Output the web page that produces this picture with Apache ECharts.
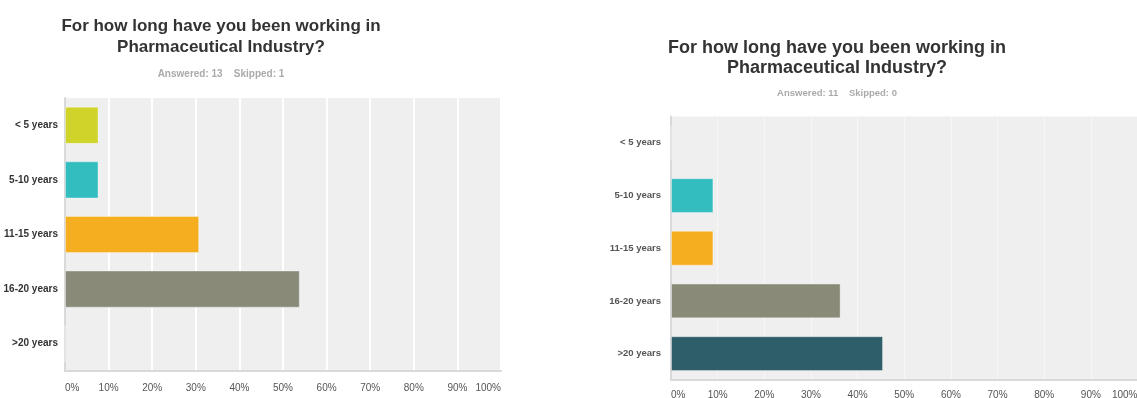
<!DOCTYPE html>
<html>
<head>
<meta charset="utf-8">
<script src="https://cdn.jsdelivr.net/npm/echarts@6/dist/echarts.min.js"></script>
<style>
  html, body { margin: 0; padding: 0; background: #fff; }
  #wrap { position: relative; width: 1137px; height: 398px; overflow: hidden; }
  #left { position: absolute; left: 0; top: 0; width: 580px; height: 398px; }
  #right { position: absolute; left: 580px; top: 0; width: 557px; height: 398px; filter: blur(0.5px); }
</style>
</head>
<body>
<div id="wrap">
  <div id="left"></div>
  <div id="right"></div>
</div>
<script>
// Survey question and answer options
const questionText = 'For how long have you been working in\nPharmaceutical Industry?';
const categories = ['< 5 years', '5-10 years', '11-15 years', '16-20 years', '>20 years'];
const tickLabels = ['0%', '10%', '20%', '30%', '40%', '50%', '60%', '70%', '80%', '90%', '100%'];

// First survey: share of respondents per answer (%)
const surveyA = { answered: 13, skipped: 1 };
const surveyAValues = [7.69, 7.69, 30.77, 53.85, 0];

// Second survey: share of respondents per answer (%)
const surveyB = { answered: 11, skipped: 0 };
const surveyBValues = [0, 9.09, 9.09, 36.36, 45.45];

// One colour per answer option
const barColors = ['#d0d42a', '#33bdbf', '#f5ae1f', '#8a8a78', '#2e5e6a'];

function buildOption(cfg) {
  return {
    animation: false,
    title: [
      {
        text: questionText,
        left: cfg.titleX, top: cfg.titleTop, textAlign: 'center',
        textStyle: {
          fontFamily: 'Liberation Sans, Arial, sans-serif',
          fontSize: cfg.titleSize, fontWeight: 'bold', color: '#333',
          lineHeight: cfg.titleLine, align: 'center'
        }
      },
      {
        text: 'Answered: ' + cfg.survey.answered + '    Skipped: ' + cfg.survey.skipped,
        left: cfg.titleX, top: cfg.subTop, textAlign: 'center',
        textStyle: {
          fontFamily: 'Liberation Sans, Arial, sans-serif',
          fontSize: cfg.subSize, fontWeight: 'bold', color: '#aaa'
        }
      }
    ],
    grid: {
      left: cfg.grid.left, top: cfg.grid.top, width: cfg.grid.width, height: cfg.grid.height,
      outerBoundsMode: 'none', containLabel: false,
      show: true, backgroundColor: '#efefef', borderWidth: 0
    },
    xAxis: {
      type: 'value', min: 0, max: 100, interval: 10,
      axisLine: { show: true, lineStyle: { color: '#d9d9d9', width: 2 } },
      axisTick: { show: false },
      splitLine: { show: true, lineStyle: { color: cfg.splitColor, width: cfg.splitWidth } },
      axisLabel: {
        margin: cfg.labelMargin,
        fontFamily: 'Liberation Sans, Arial, sans-serif',
        fontSize: cfg.tickSize, color: '#555',
        alignMinLabel: 'left', alignMaxLabel: 'right',
        formatter: (v) => tickLabels[Math.round(v / 10)]
      }
    },
    yAxis: {
      type: 'category', data: categories, inverse: true,
      axisLine: { show: true, lineStyle: { color: '#d9d9d9', width: 2 } },
      axisTick: { show: false },
      axisLabel: {
        margin: cfg.catMargin,
        fontFamily: 'Liberation Sans, Arial, sans-serif',
        fontSize: cfg.catSize, fontWeight: 'bold', color: cfg.catColor
      }
    },
    series: [{
      type: 'bar',
      barCategoryGap: cfg.gap,
      data: cfg.values.map((v, i) => ({
        value: v,
        itemStyle: { color: barColors[i], borderColor: 'rgba(255,255,255,0.35)', borderWidth: 1 }
      }))
    }]
  };
}

const leftChart = echarts.init(document.getElementById('left'));
leftChart.setOption(buildOption({
  survey: surveyA, values: surveyAValues,
  titleX: 216, titleTop: 11, titleSize: 17, titleLine: 21,
  subTop: 64, subSize: 10,
  grid: { left: 65, top: 98, width: 436, height: 273 },
  splitColor: '#ffffff', splitWidth: 2,
  labelMargin: 12, tickSize: 10,
  catMargin: 7, catSize: 10, catColor: '#333',
  gap: '32%'
}));

const rightChart = echarts.init(document.getElementById('right'));
rightChart.setOption(buildOption({
  survey: surveyB, values: surveyBValues,
  titleX: 252, titleTop: 33, titleSize: 18, titleLine: 20,
  subTop: 83, subSize: 9.5,
  grid: { left: 91, top: 116.5, width: 466.5, height: 263.5 },
  splitColor: '#f7f7f7', splitWidth: 1,
  labelMargin: 10, tickSize: 10,
  catMargin: 10, catSize: 9.5, catColor: '#555',
  gap: '34%'
}));
</script>
</body>
</html>
